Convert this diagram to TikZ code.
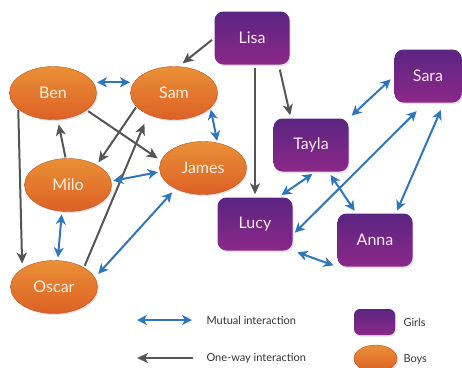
\documentclass[tikz,border=0pt]{standalone}
\usepackage{fontspec}
\setmainfont{Lato}
\usetikzlibrary{shapes.geometric, arrows.meta, positioning, shadows}

\definecolor{boytop}{HTML}{EA9036}
\definecolor{boybot}{HTML}{DD6026}
\definecolor{girltop}{HTML}{5A2581}
\definecolor{girlbot}{HTML}{8C2889}
\definecolor{mutualblue}{HTML}{2E75C0}
\definecolor{onewaygrey}{HTML}{555555}

\tikzset{
  boy/.style={ellipse, minimum width=87pt, minimum height=53pt, inner sep=0pt,
    top color=boytop, bottom color=boybot, draw=boybot!85!black, line width=0.4pt,
    text=white!90!orange, font=\fontsize{16}{18}\selectfont,
    drop shadow={shadow xshift=1.2pt, shadow yshift=-1.5pt, opacity=0.25}},
  girl/.style={rectangle, rounded corners=9pt, minimum width=75pt, minimum height=53pt, inner sep=0pt,
    top color=girltop, bottom color=girlbot,
    text=white!92!magenta, font=\fontsize{16}{18}\selectfont,
    drop shadow={shadow xshift=1.2pt, shadow yshift=-1.5pt, opacity=0.25}},
  mutual/.style={draw=mutualblue, line width=2pt,
    {Stealth[length=10pt,width=10pt,inset=3pt]}-{Stealth[length=10pt,width=10pt,inset=3pt]}},
  oneway/.style={draw=onewaygrey, line width=2pt, -{Stealth[length=11pt,width=10pt,inset=3pt]}},
  legend/.style={anchor=west, text=black!80, font=\fontsize{11}{13}\selectfont}
}

\begin{document}
\begin{tikzpicture}[x=1pt, y=-1pt]
\useasboundingbox (0,0) rectangle (462,367);
\clip (0,0) rectangle (462,367);

% Boys
\node[boy] (ben)   at (53,93)   {Ben};
\node[boy] (sam)   at (174,93)  {Sam};
\node[boy] (james) at (203,168) {James};
\node[boy] (milo)  at (68,185)  {Milo};
\node[boy] (oscar) at (54,287)  {Oscar};

% Girls
\node[girl] (lisa)  at (252,38)  {Lisa};
\node[girl, minimum width=67pt] (sara) at (428,76) {Sara};
\node[girl] (tayla) at (311,145) {Tayla};
\node[girl] (lucy)  at (255,224) {Lucy};
\node[girl] (anna)  at (375,240) {Anna};

% One-way interactions
\draw[oneway, shorten <=3pt, shorten >=5pt] (lisa.west) -- (sam.80);
\draw[oneway, shorten <=5pt, shorten >=3pt] (lisa.-45) -- (tayla.127);
\draw[oneway, shorten <=3pt, shorten >=3pt] (lisa.south -| lucy.north) -- (lucy.north);
\draw[oneway, shorten <=1pt, shorten >=5pt] (ben.205) -- (oscar.150);
\draw[oneway, shorten <=1pt, shorten >=5pt] (milo.95) -- (ben.-80);
\draw[oneway, shorten <=2pt, shorten >=4pt] (ben.-27) -- (james.170);
\draw[oneway, shorten <=1pt, shorten >=3pt] (sam.200) -- (milo.35);
\draw[oneway, shorten <=2pt, shorten >=10pt] (oscar.33) -- (sam.220);

% Mutual interactions
\draw[mutual, shorten <=4pt, shorten >=4pt] (ben.15) -- (sam.165);
\draw[mutual, shorten <=2pt, shorten >=2pt] (sam.-22) -- (james.60);
\draw[mutual, shorten <=2pt, shorten >=2pt] (milo.5) -- (james.185);
\draw[mutual, shorten <=3pt, shorten >=3pt] (milo.-103) -- (oscar.82);
\draw[mutual, shorten <=5pt, shorten >=5pt] (oscar.13) -- (james.217);
\draw[mutual, shorten <=4pt, shorten >=5pt] (tayla.north east) -- (sara.west);
\draw[mutual, shorten <=4pt, shorten >=4pt] (tayla.-80) -- (lucy.49);
\draw[mutual, shorten <=4pt, shorten >=3pt] (tayla.-57) -- (anna.125);
\draw[mutual, shorten <=3pt, shorten >=12pt] (lucy.-16) -- (sara.-96);
\draw[mutual, shorten <=8pt, shorten >=3pt] (sara.-59) -- (anna.52);
\draw[mutual, shorten <=5pt, shorten >=4pt] (lucy.south east) -- (anna.south west);

% Legend
\coordinate (mutualL) at (137,320);
\coordinate (mutualR) at (192,320);
\draw[mutual] (mutualL) -- (mutualR);
\node[legend] (mutualtxt) at (203,320) {Mutual interaction};
\coordinate (onewayR) at (193,358);
\coordinate (onewayL) at (137,358);
\draw[oneway] (onewayR) -- (onewayL);
\node[legend] (onewaytxt) at (203,358) {One-way interaction};
\node[girl, minimum width=41pt, minimum height=26pt, rounded corners=6pt] (girlkey) at (374.5,322) {};
\node[legend] (girltxt) at (400,322) {Girls};
\node[boy, minimum width=43pt, minimum height=27pt] (boykey) at (375.5,358.5) {};
\node[legend] (boytxt) at (400,359) {Boys};
\end{tikzpicture}
\end{document}
